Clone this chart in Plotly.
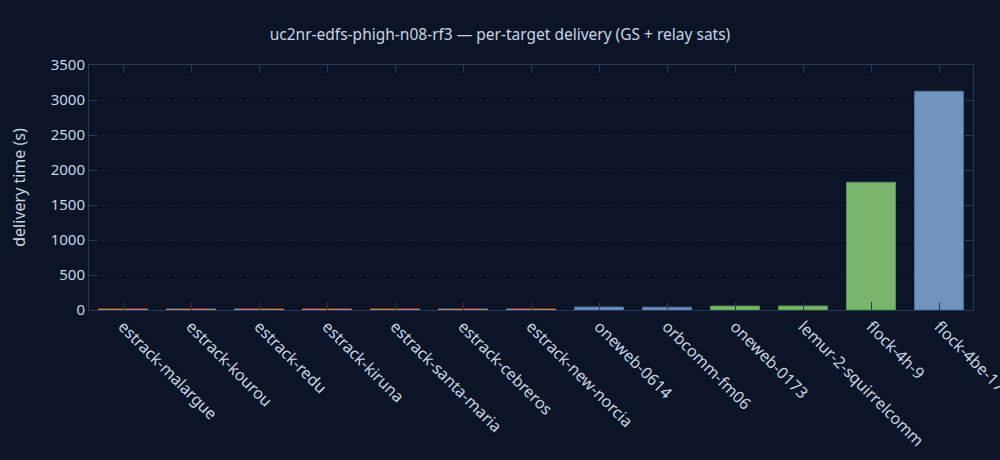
import plotly.graph_objects as go

targets = ['estrack-malargue', 'estrack-kourou', 'estrack-redu', 'estrack-kiruna',
           'estrack-santa-maria', 'estrack-cebreros', 'estrack-new-norcia',
           'oneweb-0614', 'orbcomm-fm06', 'oneweb-0173', 'lemur-2-squirrelcomm',
           'flock-4h-9', 'flock-4be-17']
delivery_s = [12, 12, 12, 12, 12, 12, 12, 42, 40, 56, 57, 1825, 3125]
kind = ['gs', 'gs', 'gs', 'gs', 'gs', 'gs', 'gs',
        'relay', 'relay', 'sat', 'sat', 'sat', 'relay']

fill = {'gs': '#e8873a', 'relay': '#7094bb', 'sat': '#7ab56e'}
edge = {'gs': '#e8873a', 'relay': '#4a72a6', 'sat': '#4f9a45'}

BG = '#0b1527'
FG = '#c8d4e3'
AX = '#2a3a55'

fig = go.Figure(go.Bar(
    x=targets, y=delivery_s,
    marker=dict(color=[fill[k] for k in kind],
                line=dict(color=[edge[k] for k in kind], width=1)),
))

fig.update_layout(
    width=1000, height=460,
    paper_bgcolor=BG, plot_bgcolor=BG,
    font=dict(family='Noto Sans', color=FG, size=14),
    title=dict(text='uc2nr-edfs-phigh-n08-rf3 — per-target delivery (GS + relay sats)',
               x=0.5, xanchor='center', y=1 - 35 / 460, yanchor='middle',
               font=dict(size=15.5)),
    margin=dict(l=89, r=27, t=65, b=150),
    bargap=0.28,
    showlegend=False,
)
# labels run off the right edge in the original too, so no automargin
fig.update_xaxes(tickangle=45, showline=True, linecolor=AX, mirror='ticks',
                 ticks='inside', ticklen=8, tickcolor=AX, showgrid=False,
                 tickfont=dict(size=16), automargin=False)
fig.update_yaxes(title_text='delivery time (s)', title_standoff=21,
                 title_font=dict(size=16), range=[0, 3500], dtick=500,
                 showline=True, linecolor=AX, mirror='ticks', ticks='inside',
                 ticklen=8, tickcolor=AX, showgrid=True, gridcolor='#16223a',
                 griddash='dot', zeroline=False, tickfont=dict(size=15),
                 automargin=False)

fig.write_html("out.html", config={'displayModeBar': False},
               post_script="document.body.style.margin='0';")
